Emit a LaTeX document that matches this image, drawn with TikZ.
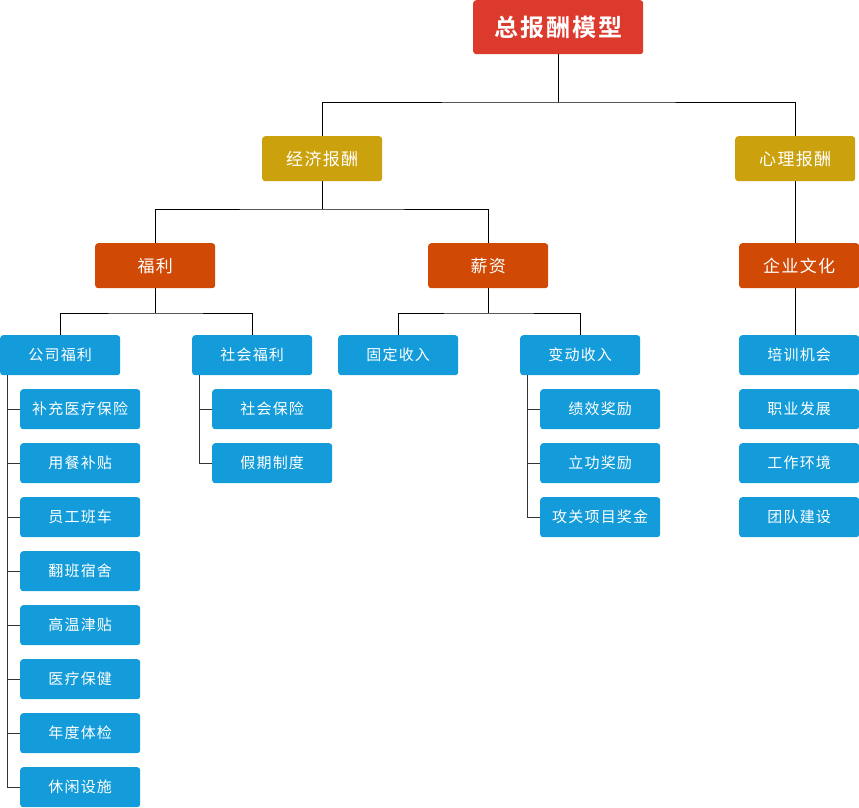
\documentclass[tikz,border=0pt]{standalone}
\usepackage{fontspec}
\newfontfamily\cjk[LetterSpace=8]{Noto Sans CJK SC}
\newfontfamily\cjkb[LetterSpace=8]{Noto Sans CJK SC Bold}
\definecolor{topred}{HTML}{DD3A2E}
\definecolor{gold}{HTML}{CBA20E}
\definecolor{orng}{HTML}{D04A06}
\definecolor{blu}{HTML}{139CD9}
\definecolor{trunk}{HTML}{333333}
\begin{document}
\begin{tikzpicture}[x=1pt,y=-1pt,
  box/.style={rounded corners=3pt,minimum width=120pt,text=white,inner sep=0pt,anchor=north west},
  topbox/.style={box,fill=topred,minimum width=170pt,minimum height=54pt,font=\cjkb\fontsize{24}{28}\selectfont},
  l1box/.style={box,fill=gold,minimum height=45pt,font=\cjk\fontsize{17}{20}\selectfont},
  l2box/.style={box,fill=orng,minimum height=45pt,font=\cjk\fontsize{17}{20}\selectfont},
  l3box/.style={box,fill=blu,minimum height=40pt,font=\cjk\fontsize{15}{18}\selectfont},
  conn/.style={draw=black,line width=1pt},
  tconn/.style={draw=trunk,line width=1pt}]
\useasboundingbox (0,0) rectangle (859,807);
% top
\node[topbox] (top) at (473,0) {总报酬模型};
\node[l1box] (jj) at (262,136) {经济报酬};
\node[l1box] (xl) at (735,136) {心理报酬};
\node[l2box] (fl) at (95,243) {福利};
\node[l2box] (xz) at (428,243) {薪资};
\node[l2box] (qy) at (739,243) {企业文化};
\node[l3box] (gs) at (0,335) {公司福利};
\node[l3box] (sh) at (192,335) {社会福利};
\node[l3box] (gd) at (338,335) {固定收入};
\node[l3box] (bd) at (520,335) {变动收入};
\node[l3box] (px) at (739,335) {培训机会};
\node[l3box] (zy) at (739,389) {职业发展};
\node[l3box] (gz) at (739,443) {工作环境};
\node[l3box] (td) at (739,497) {团队建设};
% gs children
\node[l3box] (g1) at (20,389) {补充医疗保险};
\node[l3box] (g2) at (20,443) {用餐补贴};
\node[l3box] (g3) at (20,497) {员工班车};
\node[l3box] (g4) at (20,551) {翻班宿舍};
\node[l3box] (g5) at (20,605) {高温津贴};
\node[l3box] (g6) at (20,659) {医疗保健};
\node[l3box] (g7) at (20,713) {年度体检};
\node[l3box] (g8) at (20,767) {休闲设施};
% sh children
\node[l3box] (s1) at (212,389) {社会保险};
\node[l3box] (s2) at (212,443) {假期制度};
% bd children
\node[l3box] (b1) at (540,389) {绩效奖励};
\node[l3box] (b2) at (540,443) {立功奖励};
\node[l3box] (b3) at (540,497) {攻关项目奖金};
% connectors
\coordinate (h1) at (top.south |- 0,102);
\draw[conn] (top.south) -- (h1);
\draw[conn] (jj.north) |- (h1) -| (xl.north);
\coordinate (h2) at (jj.south |- 0,209);
\draw[conn] (jj.south) -- (h2);
\draw[conn] (fl.north) |- (h2) -| (xz.north);
\draw[conn] (xl.south) -- (xl.south |- qy.north);
\draw[conn] (xl.south |- qy.south) -- (xl.south |- px.north);
\coordinate (h3) at (fl.south |- 0,313);
\draw[conn] (fl.south) -- (h3);
\draw[conn] (gs.north) |- (h3) -| (sh.north);
\coordinate (h4) at (xz.south |- 0,313);
\draw[conn] (xz.south) -- (h4);
\draw[conn] (gd.north) |- (h4) -| (bd.north);
% trunks
\coordinate (t1) at (7,375);
\draw[tconn] (t1) |- (g8.west);
\foreach \n in {g1,g2,g3,g4,g5,g6,g7} \draw[tconn] (t1 |- \n.west) -- (\n.west);
\coordinate (t2) at (199,375);
\draw[tconn] (t2) |- (s2.west);
\draw[tconn] (t2 |- s1.west) -- (s1.west);
\coordinate (t3) at (527,375);
\draw[tconn] (t3) |- (b3.west);
\foreach \n in {b1,b2} \draw[tconn] (t3 |- \n.west) -- (\n.west);
\end{tikzpicture}
\end{document}
